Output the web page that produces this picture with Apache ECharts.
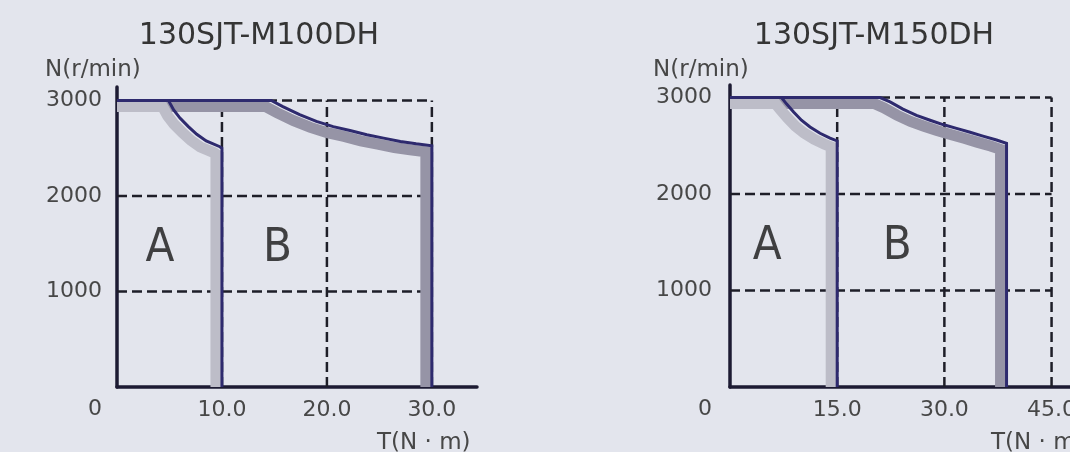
<!DOCTYPE html>
<html>
<head>
<meta charset="utf-8">
<script src="https://cdn.jsdelivr.net/npm/echarts@6.0.0/dist/echarts.min.js"></script>
<style>
html,body{margin:0;padding:0;background:#e3e5ed;}
#c{width:1070px;height:452px;}
</style>
</head>
<body>
<div id="c"></div>
<script>
// ---- Data ----
const leftTitle = '130SJT-M100DH';
const rightTitle = '130SJT-M150DH';
const yName = 'N(r/min)';
const xName = 'T(N · m)';

const leftXTicks = [10, 20, 30];
const rightXTicks = [15, 30, 45];
const yTicks = [0, 1000, 2000, 3000];

// torque-speed curves (T in N·m, N in r/min)
const leftA = [[0,3000],[4.9,3000],[5.4,2900],[6.0,2815],[6.8,2725],[7.6,2645],[8.5,2575],[9.8,2515],[10,2500],[10,0]];
const leftB = [[0,3000],[14.7,3000],[15.8,2935],[17.4,2850],[19.0,2780],[20.6,2725],[22.2,2685],[23.8,2640],[25.4,2605],[27.0,2570],[28.5,2545],[30,2525],[30,0]];
const rightA = [[0,3000],[7.2,3000],[7.9,2935],[8.9,2850],[10.0,2765],[11.2,2695],[12.6,2630],[14.0,2580],[15,2550],[15,0]];
const rightB = [[0,3000],[21,3000],[22.4,2955],[24.2,2880],[26.1,2815],[28.0,2765],[29.8,2720],[31.7,2680],[33.6,2640],[35.4,2600],[37.3,2560],[38.7,2525],[38.7,0]];

const leftRegions = [['A', 4.1, 1450], ['B', 15.3, 1450]];
const rightRegions = [['A', 5.2, 1450], ['B', 23.4, 1450]];

// ---- Styles / layout ----
const BLUE = '#2e2a6e';
const AXIS = '#1d1b33';
const BAND_A = '#bdbdc8';
const BAND_B = '#9694a6';
const TXT = '#474747';
const FONT = 'DejaVu Sans, Liberation Sans, sans-serif';
const BAND_W = 11;      // shadow band width (px)
const BAND_OFF = 6;     // shadow offset left/down (px)

const panels = [
  {L: 117, T: 87, W: 360, H: 300, xMax: 34.3, yMax: 3140, yMargin: 15, xTicks: leftXTicks, A: leftA, B: leftB, regions: leftRegions},
  {L: 730, T: 85, W: 343, H: 302, xMax: 48, yMax: 3130, yMargin: 18, xTicks: rightXTicks, A: rightA, B: rightB, regions: rightRegions}
];

const grids = [], xAxes = [], yAxes = [], series = [];

function axisBase(show) {
  return {
    type: 'value', show,
    axisLine: {show: true, onZero: false, lineStyle: {color: AXIS, width: 3.5}},
    axisTick: {show: false},
    splitLine: {show: false}
  };
}

panels.forEach(p => {
  const main = grids.length;
  const sx = p.W / p.xMax, sy = p.H / p.yMax;
  const half = BAND_W / 2;
  grids.push({left: p.L, top: p.T, width: p.W, height: p.H, outerBoundsMode: 'none', containLabel: false});
  xAxes.push(Object.assign(axisBase(true), {
    gridIndex: main, min: 0, max: p.xMax,
    axisLabel: {customValues: p.xTicks, margin: 12, fontSize: 22, color: TXT, fontFamily: FONT,
      formatter: v => Number(v).toFixed(1)}
  }));
  yAxes.push(Object.assign(axisBase(true), {
    gridIndex: main, min: 0, max: p.yMax,
    axisLabel: {customValues: yTicks, margin: p.yMargin, fontSize: 22, color: TXT, fontFamily: FONT,
      formatter: v => v === 0 ? '{z|0}' : String(v),
      rich: {z: {padding: [44, 0, 0, 0], fontSize: 22, color: TXT, fontFamily: FONT}}}
  }));
  // shadow grid: same scale, shifted left/down, clipped at the axes
  const sh = grids.length;
  const sLeft = p.L + half, sBottom = p.T + p.H - half, sTop = p.T - 10;
  const sW = p.W - half, sH = sBottom - sTop;
  const sxMin = (half + BAND_OFF) / sx;
  const syMin = (half + BAND_OFF) / sy;
  grids.push({left: sLeft, top: sTop, width: sW, height: sH, outerBoundsMode: 'none', containLabel: false});
  xAxes.push(Object.assign(axisBase(false), {gridIndex: sh, min: sxMin, max: sxMin + sW / sx}));
  yAxes.push(Object.assign(axisBase(false), {gridIndex: sh, min: syMin, max: syMin + sH / sy}));

  const frameX = p.xTicks[p.xTicks.length - 1];
  const frameY = yTicks[yTicks.length - 1];
  const dash = {color: '#1e1e28', width: 2.5, type: [10, 5]};
  p.xTicks.forEach(x => series.push({
    type: 'line', xAxisIndex: main, yAxisIndex: main, symbol: 'none', z: 2,
    lineStyle: dash, data: [[x, 0], [x, frameY]], silent: true
  }));
  yTicks.filter(y => y > 0).forEach(y => series.push({
    type: 'line', xAxisIndex: main, yAxisIndex: main, symbol: 'none', z: 2,
    lineStyle: dash, data: [[0, y], [frameX, y]], silent: true
  }));
  [[p.B, BAND_B], [p.A, BAND_A]].forEach(([d, c]) => series.push({
    type: 'line', xAxisIndex: sh, yAxisIndex: sh, symbol: 'none', z: 3, clip: true,
    lineStyle: {color: c, width: BAND_W, join: 'miter', cap: 'butt'}, data: d, silent: true
  }));
  [p.B, p.A].forEach(d => series.push({
    type: 'line', xAxisIndex: main, yAxisIndex: main, symbol: 'none', z: 5,
    lineStyle: {color: BLUE, width: 3, join: 'miter'}, data: d, silent: true
  }));
  series.push({
    type: 'scatter', xAxisIndex: main, yAxisIndex: main, symbolSize: 0, z: 6,
    data: p.regions.map(r => ({value: [r[1], r[2]], name: r[0]})),
    label: {show: true, position: 'inside', formatter: q => q.name, fontSize: 47,
      color: '#151515', fontFamily: 'DejaVu Sans Condensed, Liberation Sans Narrow, sans-serif'},
    silent: true
  });
});

const titleStyle = {fontSize: 30, fontWeight: 'normal', color: '#353535', fontFamily: FONT};
const nameStyle = {fontSize: 23, fontWeight: 'normal', color: TXT, fontFamily: FONT};

const chart = echarts.init(document.getElementById('c'));
chart.setOption({
  backgroundColor: '#e3e5ed',
  animation: false,
  title: [
    {text: leftTitle, left: 254, top: 16, textAlign: 'center', textStyle: titleStyle},
    {text: rightTitle, left: 869, top: 16, textAlign: 'center', textStyle: titleStyle},
    {text: yName, left: 40, top: 54, textStyle: nameStyle},
    {text: yName, left: 648, top: 54, textStyle: nameStyle},
    {text: xName, left: 372, top: 427, textStyle: nameStyle},
    {text: xName, left: 986, top: 427, textStyle: nameStyle}
  ],
  grid: grids,
  xAxis: xAxes,
  yAxis: yAxes,
  series
});
</script>
</body>
</html>
